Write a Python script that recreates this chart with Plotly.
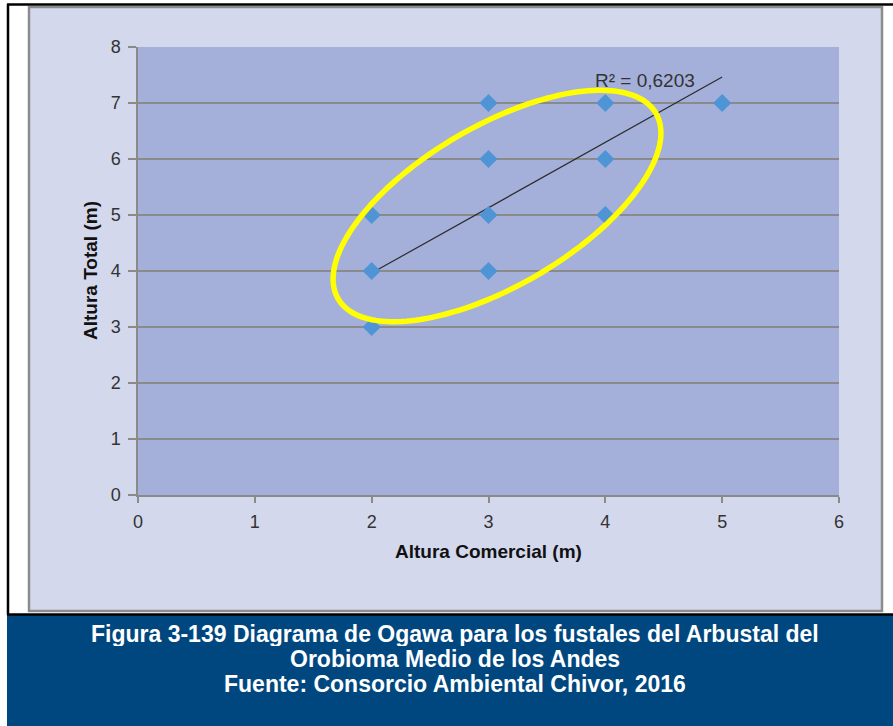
import numpy as np
import plotly.graph_objects as go

# Ogawa diagram: commercial height vs total height of shrubland stems
altura_comercial = [2, 2, 2, 3, 3, 3, 3, 4, 4, 4, 5]
altura_total = [3, 4, 5, 4, 5, 6, 7, 5, 6, 7, 7]

# Linear trend reported with the chart
trend_slope = 1.1667
trend_intercept = 1.63
r2_label = "R² = 0,6203"

x_ticks = [0, 1, 2, 3, 4, 5, 6]
y_ticks = [0, 1, 2, 3, 4, 5, 6, 7, 8]

caption_lines = [
    "Figura 3-139 Diagrama de Ogawa para los fustales del Arbustal del",
    "Orobioma Medio de los Andes",
    "Fuente: Consorcio Ambiental Chivor, 2016",
]

W, H = 893, 726
ML, MR, MT, MB = 138, 54, 47, 231
PW, PH = W - ML - MR, H - MT - MB
XR, YR = (0, 6), (0, 8)

FONT = "Liberation Sans, Arial, sans-serif"


def px_to_paper_x(px):
    return (px - ML) / PW


def py_to_paper_y(py):
    return (H - MB - py) / PH


def px_to_data_x(px):
    return XR[0] + (px - ML) / PW * (XR[1] - XR[0])


def py_to_data_y(py):
    return YR[0] + (H - MB - py) / PH * (YR[1] - YR[0])


fig = go.Figure()

# Trend line over the span of the data
tx = np.array([min(altura_comercial), max(altura_comercial)], dtype=float)
ty = trend_slope * tx + trend_intercept
fig.add_trace(go.Scatter(
    x=tx, y=ty, mode="lines",
    line=dict(color="#2b2b2b", width=1.2),
    hoverinfo="skip", showlegend=False,
))

fig.add_trace(go.Scatter(
    x=altura_comercial, y=altura_total, mode="markers",
    marker=dict(symbol="diamond", size=14, color="#4f95d6",
                line=dict(width=0)),
    showlegend=False,
))

# Highlight ellipse (rotated), defined in screen space and mapped to data
cx, cy = 497, 206
a, b = 184, 80
theta = np.deg2rad(30.3)
t = np.linspace(0, 2 * np.pi, 181)
ex = cx + a * np.cos(t) * np.cos(theta) + b * np.sin(t) * np.sin(theta)
ey = cy - a * np.cos(t) * np.sin(theta) + b * np.sin(t) * np.cos(theta)
path = "M " + " L ".join(f"{px_to_data_x(u):.4f},{py_to_data_y(v):.4f}"
                         for u, v in zip(ex, ey)) + " Z"

shapes = [
    # chart area background with grey frame
    dict(type="rect", xref="paper", yref="paper", layer="below",
         x0=px_to_paper_x(29), x1=px_to_paper_x(882),
         y0=py_to_paper_y(611), y1=py_to_paper_y(7),
         fillcolor="#d3d8ed", line=dict(color="#8c8c8c", width=2.5)),
    # plotting area fill
    dict(type="rect", xref="paper", yref="paper", layer="below",
         x0=0, x1=1, y0=0, y1=1,
         fillcolor="#a4b0da", line=dict(width=0)),
    # caption banner
    dict(type="rect", xref="paper", yref="paper", layer="below",
         x0=px_to_paper_x(7), x1=px_to_paper_x(895),
         y0=py_to_paper_y(728), y1=py_to_paper_y(615),
         fillcolor="#00477f", line=dict(width=0)),
    # outer black frame
    dict(type="line", xref="paper", yref="paper",
         x0=px_to_paper_x(8), x1=px_to_paper_x(8),
         y0=py_to_paper_y(615), y1=py_to_paper_y(4),
         line=dict(color="black", width=2.5)),
    dict(type="line", xref="paper", yref="paper",
         x0=px_to_paper_x(7), x1=px_to_paper_x(895),
         y0=py_to_paper_y(4.5), y1=py_to_paper_y(4.5),
         line=dict(color="black", width=2.5)),
    dict(type="line", xref="paper", yref="paper",
         x0=px_to_paper_x(7), x1=px_to_paper_x(895),
         y0=py_to_paper_y(614.5), y1=py_to_paper_y(614.5),
         line=dict(color="black", width=2.5)),
    dict(type="path", xref="x", yref="y", path=path,
         line=dict(color="#ffff00", width=5.5)),
]

annotations = [
    dict(text=r2_label, x=px_to_data_x(645), y=py_to_data_y(80),
         xref="x", yref="y", showarrow=False,
         xanchor="center", yanchor="middle",
         font=dict(family=FONT, size=19, color="#333333")),
    dict(text="<b>Altura Comercial (m)</b>", xref="paper", yref="paper",
         x=px_to_paper_x(488), y=py_to_paper_y(551), showarrow=False,
         xanchor="center", yanchor="middle",
         font=dict(family=FONT, size=19, color="#111111")),
    dict(text="<b>Altura Total (m)</b>", xref="paper", yref="paper",
         x=px_to_paper_x(90), y=py_to_paper_y(271), showarrow=False,
         xanchor="center", yanchor="middle", textangle=-90,
         font=dict(family=FONT, size=19, color="#111111")),
]

# Caption lines, tightly spaced
for i, line in enumerate(caption_lines):
    annotations.append(dict(
        text=f"<b>{line}</b>", xref="paper", yref="paper",
        x=px_to_paper_x(455), y=py_to_paper_y(633 + 25 * i),
        showarrow=False, xanchor="center", yanchor="middle",
        borderpad=0, height=25,
        font=dict(family=FONT, size=23, color="white")))

fig.update_layout(
    width=W, height=H,
    margin=dict(l=ML, r=MR, t=MT, b=MB, pad=0),
    paper_bgcolor="white",
    plot_bgcolor="#a4b0da",
    shapes=shapes,
    annotations=annotations,
    showlegend=False,
    xaxis=dict(range=list(XR), tickvals=x_ticks, showgrid=False,
               zeroline=False, showline=True, linecolor="#8a8a8a",
               linewidth=2, ticks="outside", ticklen=6, tickwidth=1.5,
               tickcolor="#8a8a8a", ticklabelstandoff=3,
               tickfont=dict(family=FONT, size=18, color="#333333")),
    yaxis=dict(range=list(YR), tickvals=y_ticks, showgrid=True,
               gridcolor="#8a8a8a", gridwidth=1.7,
               zeroline=False, showline=True, linecolor="#8a8a8a",
               linewidth=1.5, ticks="outside", ticklen=8, tickwidth=1.5,
               tickcolor="#8a8a8a", ticklabelstandoff=4,
               tickfont=dict(family=FONT, size=18, color="#333333")),
)

fig.write_html("out.html")
